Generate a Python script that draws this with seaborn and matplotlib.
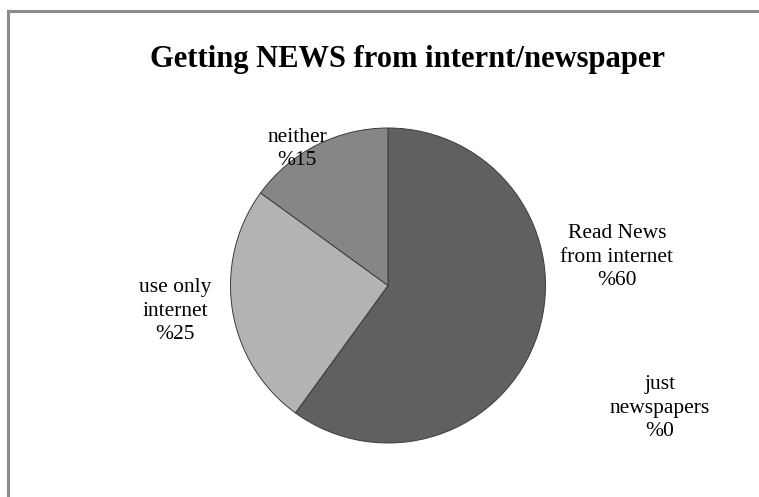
import matplotlib
matplotlib.use("Agg")
import matplotlib.pyplot as plt
from matplotlib.patches import Rectangle
import seaborn as sns

# Data
categories = ["Read News\nfrom internet", "just\nnewspapers", "use only\ninternet", "neither"]
shares = [60, 0, 25, 15]
title = "Getting NEWS from internt/newspaper"

sns.set_theme(style="white")
plt.rcParams["font.family"] = ["Liberation Serif", "DejaVu Serif"]

greys = ["#606060", "#9a9a9a", "#b3b3b3", "#868686"]

W, H = 759, 497
fig = plt.figure(figsize=(W / 100, H / 100), dpi=100)
ax = fig.add_axes([0, 0, 1, 1])
ax.set_xlim(0, W)
ax.set_ylim(0, H)
ax.set_aspect("equal")
ax.axis("off")

# Chart-area border (runs off the right and bottom edges)
ax.add_patch(Rectangle((8, -20), W + 40, H - 11 + 20, fill=False,
                       edgecolor="#8c8c8c", linewidth=2.2))

cx, cy, r = 388, H - 285.5, 157.5
ax.pie(shares, colors=greys, startangle=90, counterclock=False,
       center=(cx, cy), radius=r, frame=True,
       wedgeprops=dict(edgecolor="#3c3c3c", linewidth=0.7))
ax.set_xlim(0, W)
ax.set_ylim(0, H)
ax.axis("off")

# Category labels with their shares
label_pos = [(617, H - 257), (660, H - 408), (175, H - 311), (297, H - 149)]
for name, val, (x, y) in zip(categories, shares, label_pos):
    ax.text(x, y, f"{name}\n%{val}", ha="center", va="center",
            fontsize=15.5, linespacing=1.3, color="black")

ax.text(408, H - 67, title, ha="center", va="baseline",
        fontsize=22, fontweight="bold", color="black")

fig.savefig("out.png", dpi=100)
